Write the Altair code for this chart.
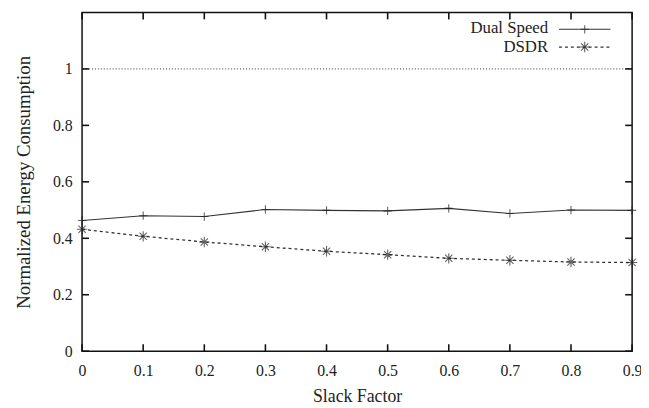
import altair as alt
import pandas as pd

slack = [0.0, 0.1, 0.2, 0.3, 0.4, 0.5, 0.6, 0.7, 0.8, 0.9]
dual_speed = [0.463, 0.480, 0.477, 0.502, 0.499, 0.497, 0.506, 0.488, 0.500, 0.499]
dsdr = [0.432, 0.407, 0.387, 0.370, 0.354, 0.342, 0.329, 0.322, 0.316, 0.314]
x_ticks = [0.0, 0.1, 0.2, 0.3, 0.4, 0.5, 0.6, 0.7, 0.8, 0.9]
y_ticks = [0.0, 0.2, 0.4, 0.6, 0.8, 1.0]
reference_level = [1.0]

W, H = 557, 343
FONT = "'Times New Roman', 'Liberation Serif', Times, serif"
PLUS = "M-1,0L1,0M0,-1L0,1"
STAR = "M-1,0L1,0M0,-1L0,1M-0.7,-0.7L0.7,0.7M-0.7,0.7L0.7,-0.7"

df_ds = pd.DataFrame({"x": slack, "y": dual_speed})
df_dr = pd.DataFrame({"x": slack, "y": dsdr})
df_xt = pd.DataFrame({"x": x_ticks})
df_yt = pd.DataFrame({"y": y_ticks})
df_ref = pd.DataFrame({"y": reference_level})
one = pd.DataFrame({"a": [0]})

xscale = alt.Scale(domain=[0, 0.9], nice=False, zero=False)
yscale = alt.Scale(domain=[0, 1.2], nice=False)

xaxis = alt.Axis(values=x_ticks, format="~g", ticks=False, domain=False, grid=False,
                 labelFlush=False, labelPadding=12, title="Slack Factor", titlePadding=9,
                 labelFont=FONT, titleFont=FONT, labelFontSize=16, titleFontSize=18,
                 labelColor="#222", titleColor="#222", titleFontWeight="normal")
yaxis = alt.Axis(values=y_ticks, format="~g", ticks=False, domain=False, grid=False,
                 labelFlush=False, labelPadding=10, title="Normalized Energy Consumption",
                 titlePadding=19,
                 labelFont=FONT, titleFont=FONT, labelFontSize=16, titleFontSize=19,
                 labelColor="#222", titleColor="#222", titleFontWeight="normal")


def X(f="x"):
    return alt.X(f + ":Q", scale=xscale, axis=xaxis)


def Y(f="y"):
    return alt.Y(f + ":Q", scale=yscale, axis=yaxis)


ds_line = alt.Chart(df_ds).mark_line(color="#333", strokeWidth=1.1).encode(x=X(), y=Y())
ds_pts = alt.Chart(df_ds).mark_point(shape=PLUS, size=70, color="#222", strokeWidth=1.1,
                                     filled=False).encode(x=X(), y=Y())
dr_line = alt.Chart(df_dr).mark_line(color="#333", strokeWidth=1.3, strokeDash=[3, 3]).encode(x=X(), y=Y())
dr_pts = alt.Chart(df_dr).mark_point(shape=STAR, size=110, color="#222", strokeWidth=1.1,
                                     filled=False).encode(x=X(), y=Y())

ref = alt.Chart(df_ref).mark_rule(color="#333", strokeWidth=1, strokeDash=[1, 2]).encode(y=Y())

tick_style = dict(color="#111", strokeWidth=1.6)
xt_bottom = alt.Chart(df_xt).mark_rule(**tick_style).encode(x=X(), y=alt.value(H), y2=alt.value(H - 7))
xt_top = alt.Chart(df_xt).mark_rule(**tick_style).encode(x=X(), y=alt.value(0), y2=alt.value(7))
yt_left = alt.Chart(df_yt).mark_rule(**tick_style).encode(y=Y(), x=alt.value(0), x2=alt.value(7))
yt_right = alt.Chart(df_yt).mark_rule(**tick_style).encode(y=Y(), x=alt.value(W), x2=alt.value(W - 7))

# legend
txt = dict(font=FONT, fontSize=17, color="#222", align="right", baseline="middle")
leg1_t = alt.Chart(one).mark_text(text="Dual Speed", **txt).encode(x=alt.value(472), y=alt.value(16))
leg2_t = alt.Chart(one).mark_text(text="DSDR", **txt).encode(x=alt.value(472), y=alt.value(35))
leg1_l = alt.Chart(one).mark_rule(color="#333", strokeWidth=1.1).encode(
    x=alt.value(483), x2=alt.value(535), y=alt.value(17))
leg2_l = alt.Chart(one).mark_rule(color="#333", strokeWidth=1.3, strokeDash=[3, 3]).encode(
    x=alt.value(483), x2=alt.value(535), y=alt.value(35))
leg1_p = alt.Chart(one).mark_point(shape=PLUS, size=70, color="#222", strokeWidth=1.1, filled=False).encode(
    x=alt.value(509), y=alt.value(17))
leg2_p = alt.Chart(one).mark_point(shape=STAR, size=110, color="#222", strokeWidth=1.1, filled=False).encode(
    x=alt.value(509), y=alt.value(35))

chart = alt.layer(
    ds_line, ref, dr_line, ds_pts, dr_pts,
    xt_bottom, xt_top, yt_left, yt_right,
    leg1_t, leg2_t, leg1_l, leg2_l, leg1_p, leg2_p,
).properties(
    width=W, height=H,
    autosize=alt.AutoSizeParams(type="none"),
    padding={"left": 75, "top": 2, "right": 9, "bottom": 55},
).configure(
    background="white",
    font=FONT,
    view=alt.ViewConfig(stroke="#111", strokeWidth=1.5),
)

chart.save("out.html", embed_options={"renderer": "svg", "actions": False})
